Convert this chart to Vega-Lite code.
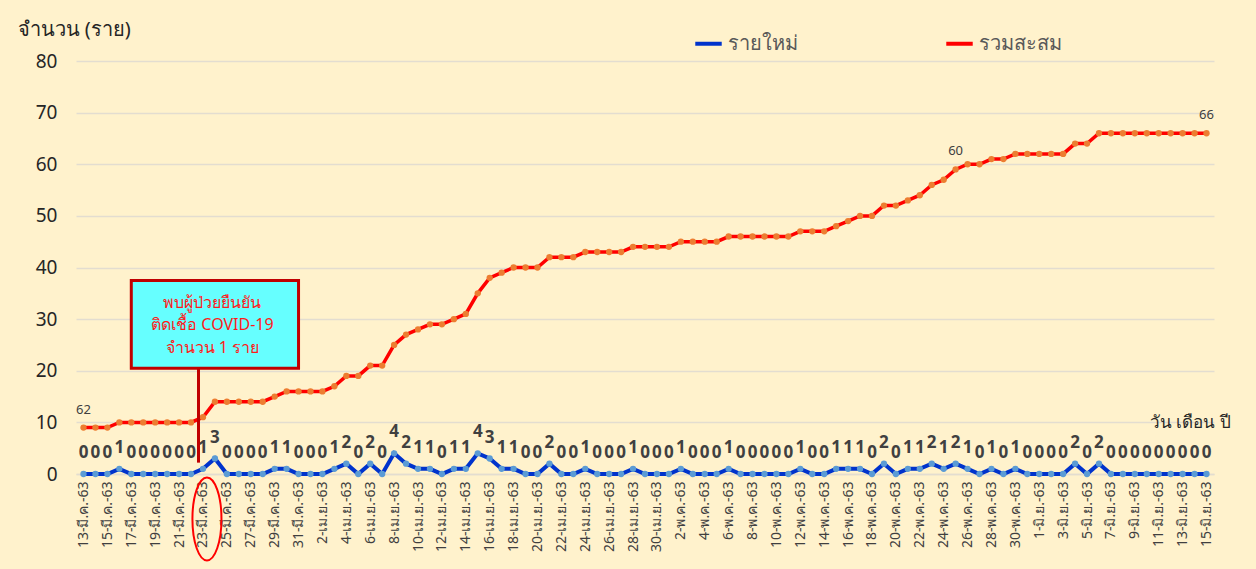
{
  "$schema": "https://vega.github.io/schema/vega-lite/v6.json",
  "width": 1138,
  "height": 413,
  "autosize": {"type": "none"},
  "padding": {"left": 76, "top": 61, "right": 42, "bottom": 95},
  "background": "#FFF2CC",
  "config": {
    "font": "Noto Sans",
    "view": {"stroke": null},
    "locale": {
      "time": {
        "dateTime": "%a %e %b %Y %X",
        "date": "%d/%m/%Y",
        "time": "%H:%M:%S",
        "periods": ["AM", "PM"],
        "days": ["อาทิตย์", "จันทร์", "อังคาร", "พุธ", "พฤหัสบดี", "ศุกร์", "เสาร์"],
        "shortDays": ["อา.", "จ.", "อ.", "พ.", "พฤ.", "ศ.", "ส."],
        "months": ["มกราคม", "กุมภาพันธ์", "มีนาคม", "เมษายน", "พฤษภาคม", "มิถุนายน", "กรกฎาคม", "สิงหาคม", "กันยายน", "ตุลาคม", "พฤศจิกายน", "ธันวาคม"],
        "shortMonths": ["ม.ค.", "ก.พ.", "มี.ค.", "เม.ย.", "พ.ค.", "มิ.ย.", "ก.ค.", "ส.ค.", "ก.ย.", "ต.ค.", "พ.ย.", "ธ.ค."]
      }
    }
  },
  "datasets": {
    "covid": [
      {"date": "2020-03-13", "new": 0, "total": 9, "totalLabel": "62"},
      {"date": "2020-03-14", "new": 0, "total": 9},
      {"date": "2020-03-15", "new": 0, "total": 9},
      {"date": "2020-03-16", "new": 1, "total": 10},
      {"date": "2020-03-17", "new": 0, "total": 10},
      {"date": "2020-03-18", "new": 0, "total": 10},
      {"date": "2020-03-19", "new": 0, "total": 10},
      {"date": "2020-03-20", "new": 0, "total": 10},
      {"date": "2020-03-21", "new": 0, "total": 10},
      {"date": "2020-03-22", "new": 0, "total": 10},
      {"date": "2020-03-23", "new": 1, "total": 11},
      {"date": "2020-03-24", "new": 3, "total": 14},
      {"date": "2020-03-25", "new": 0, "total": 14},
      {"date": "2020-03-26", "new": 0, "total": 14},
      {"date": "2020-03-27", "new": 0, "total": 14},
      {"date": "2020-03-28", "new": 0, "total": 14},
      {"date": "2020-03-29", "new": 1, "total": 15},
      {"date": "2020-03-30", "new": 1, "total": 16},
      {"date": "2020-03-31", "new": 0, "total": 16},
      {"date": "2020-04-01", "new": 0, "total": 16},
      {"date": "2020-04-02", "new": 0, "total": 16},
      {"date": "2020-04-03", "new": 1, "total": 17},
      {"date": "2020-04-04", "new": 2, "total": 19},
      {"date": "2020-04-05", "new": 0, "total": 19},
      {"date": "2020-04-06", "new": 2, "total": 21},
      {"date": "2020-04-07", "new": 0, "total": 21},
      {"date": "2020-04-08", "new": 4, "total": 25},
      {"date": "2020-04-09", "new": 2, "total": 27},
      {"date": "2020-04-10", "new": 1, "total": 28},
      {"date": "2020-04-11", "new": 1, "total": 29},
      {"date": "2020-04-12", "new": 0, "total": 29},
      {"date": "2020-04-13", "new": 1, "total": 30},
      {"date": "2020-04-14", "new": 1, "total": 31},
      {"date": "2020-04-15", "new": 4, "total": 35},
      {"date": "2020-04-16", "new": 3, "total": 38},
      {"date": "2020-04-17", "new": 1, "total": 39},
      {"date": "2020-04-18", "new": 1, "total": 40},
      {"date": "2020-04-19", "new": 0, "total": 40},
      {"date": "2020-04-20", "new": 0, "total": 40},
      {"date": "2020-04-21", "new": 2, "total": 42},
      {"date": "2020-04-22", "new": 0, "total": 42},
      {"date": "2020-04-23", "new": 0, "total": 42},
      {"date": "2020-04-24", "new": 1, "total": 43},
      {"date": "2020-04-25", "new": 0, "total": 43},
      {"date": "2020-04-26", "new": 0, "total": 43},
      {"date": "2020-04-27", "new": 0, "total": 43},
      {"date": "2020-04-28", "new": 1, "total": 44},
      {"date": "2020-04-29", "new": 0, "total": 44},
      {"date": "2020-04-30", "new": 0, "total": 44},
      {"date": "2020-05-01", "new": 0, "total": 44},
      {"date": "2020-05-02", "new": 1, "total": 45},
      {"date": "2020-05-03", "new": 0, "total": 45},
      {"date": "2020-05-04", "new": 0, "total": 45},
      {"date": "2020-05-05", "new": 0, "total": 45},
      {"date": "2020-05-06", "new": 1, "total": 46},
      {"date": "2020-05-07", "new": 0, "total": 46},
      {"date": "2020-05-08", "new": 0, "total": 46},
      {"date": "2020-05-09", "new": 0, "total": 46},
      {"date": "2020-05-10", "new": 0, "total": 46},
      {"date": "2020-05-11", "new": 0, "total": 46},
      {"date": "2020-05-12", "new": 1, "total": 47},
      {"date": "2020-05-13", "new": 0, "total": 47},
      {"date": "2020-05-14", "new": 0, "total": 47},
      {"date": "2020-05-15", "new": 1, "total": 48},
      {"date": "2020-05-16", "new": 1, "total": 49},
      {"date": "2020-05-17", "new": 1, "total": 50},
      {"date": "2020-05-18", "new": 0, "total": 50},
      {"date": "2020-05-19", "new": 2, "total": 52},
      {"date": "2020-05-20", "new": 0, "total": 52},
      {"date": "2020-05-21", "new": 1, "total": 53},
      {"date": "2020-05-22", "new": 1, "total": 54},
      {"date": "2020-05-23", "new": 2, "total": 56},
      {"date": "2020-05-24", "new": 1, "total": 57},
      {"date": "2020-05-25", "new": 2, "total": 59, "totalLabel": "60"},
      {"date": "2020-05-26", "new": 1, "total": 60},
      {"date": "2020-05-27", "new": 0, "total": 60},
      {"date": "2020-05-28", "new": 1, "total": 61},
      {"date": "2020-05-29", "new": 0, "total": 61},
      {"date": "2020-05-30", "new": 1, "total": 62},
      {"date": "2020-05-31", "new": 0, "total": 62},
      {"date": "2020-06-01", "new": 0, "total": 62},
      {"date": "2020-06-02", "new": 0, "total": 62},
      {"date": "2020-06-03", "new": 0, "total": 62},
      {"date": "2020-06-04", "new": 2, "total": 64},
      {"date": "2020-06-05", "new": 0, "total": 64},
      {"date": "2020-06-06", "new": 2, "total": 66},
      {"date": "2020-06-07", "new": 0, "total": 66},
      {"date": "2020-06-08", "new": 0, "total": 66},
      {"date": "2020-06-09", "new": 0, "total": 66},
      {"date": "2020-06-10", "new": 0, "total": 66},
      {"date": "2020-06-11", "new": 0, "total": 66},
      {"date": "2020-06-12", "new": 0, "total": 66},
      {"date": "2020-06-13", "new": 0, "total": 66},
      {"date": "2020-06-14", "new": 0, "total": 66},
      {"date": "2020-06-15", "new": 0, "total": 66, "totalLabel": "66"}
    ],
    "note": [
      {"start": "2020-03-17", "end": "2020-03-31", "top": 37.5, "bottom": 20.5}
    ],
    "noteText": [
      {"date": "2020-03-23T19:00:00Z", "value": 33.2, "text": "พบผู้ป่วยยืนยัน"},
      {"date": "2020-03-23T19:00:00Z", "value": 28.9, "text": "ติดเชื้อ COVID-19"},
      {"date": "2020-03-23T19:00:00Z", "value": 24.4, "text": "จำนวน 1 ราย"}
    ],
    "pointer": [
      {"date": "2020-03-22T15:00:00Z", "top": 20.5, "bottom": 2.2}
    ],
    "circle": [
      {"date": "2020-03-23T08:00:00Z", "value": -8.7}
    ]
  },
  "encoding": {
    "x": {
      "field": "date",
      "type": "temporal",
      "scale": {"type": "utc", "padding": 7.5},
      "axis": {
        "values": [
          {"year": 2020, "month": 3, "date": 13, "utc": true},
          {"year": 2020, "month": 3, "date": 15, "utc": true},
          {"year": 2020, "month": 3, "date": 17, "utc": true},
          {"year": 2020, "month": 3, "date": 19, "utc": true},
          {"year": 2020, "month": 3, "date": 21, "utc": true},
          {"year": 2020, "month": 3, "date": 23, "utc": true},
          {"year": 2020, "month": 3, "date": 25, "utc": true},
          {"year": 2020, "month": 3, "date": 27, "utc": true},
          {"year": 2020, "month": 3, "date": 29, "utc": true},
          {"year": 2020, "month": 3, "date": 31, "utc": true},
          {"year": 2020, "month": 4, "date": 2, "utc": true},
          {"year": 2020, "month": 4, "date": 4, "utc": true},
          {"year": 2020, "month": 4, "date": 6, "utc": true},
          {"year": 2020, "month": 4, "date": 8, "utc": true},
          {"year": 2020, "month": 4, "date": 10, "utc": true},
          {"year": 2020, "month": 4, "date": 12, "utc": true},
          {"year": 2020, "month": 4, "date": 14, "utc": true},
          {"year": 2020, "month": 4, "date": 16, "utc": true},
          {"year": 2020, "month": 4, "date": 18, "utc": true},
          {"year": 2020, "month": 4, "date": 20, "utc": true},
          {"year": 2020, "month": 4, "date": 22, "utc": true},
          {"year": 2020, "month": 4, "date": 24, "utc": true},
          {"year": 2020, "month": 4, "date": 26, "utc": true},
          {"year": 2020, "month": 4, "date": 28, "utc": true},
          {"year": 2020, "month": 4, "date": 30, "utc": true},
          {"year": 2020, "month": 5, "date": 2, "utc": true},
          {"year": 2020, "month": 5, "date": 4, "utc": true},
          {"year": 2020, "month": 5, "date": 6, "utc": true},
          {"year": 2020, "month": 5, "date": 8, "utc": true},
          {"year": 2020, "month": 5, "date": 10, "utc": true},
          {"year": 2020, "month": 5, "date": 12, "utc": true},
          {"year": 2020, "month": 5, "date": 14, "utc": true},
          {"year": 2020, "month": 5, "date": 16, "utc": true},
          {"year": 2020, "month": 5, "date": 18, "utc": true},
          {"year": 2020, "month": 5, "date": 20, "utc": true},
          {"year": 2020, "month": 5, "date": 22, "utc": true},
          {"year": 2020, "month": 5, "date": 24, "utc": true},
          {"year": 2020, "month": 5, "date": 26, "utc": true},
          {"year": 2020, "month": 5, "date": 28, "utc": true},
          {"year": 2020, "month": 5, "date": 30, "utc": true},
          {"year": 2020, "month": 6, "date": 1, "utc": true},
          {"year": 2020, "month": 6, "date": 3, "utc": true},
          {"year": 2020, "month": 6, "date": 5, "utc": true},
          {"year": 2020, "month": 6, "date": 7, "utc": true},
          {"year": 2020, "month": 6, "date": 9, "utc": true},
          {"year": 2020, "month": 6, "date": 11, "utc": true},
          {"year": 2020, "month": 6, "date": 13, "utc": true},
          {"year": 2020, "month": 6, "date": 15, "utc": true}
        ],
        "format": "%-d-%b-63",
        "labelAngle": -90,
        "labelAlign": "right",
        "labelBaseline": "middle",
        "labelFontSize": 14,
        "labelColor": "#404040",
        "labelPadding": 7,
        "labelOverlap": false,
        "labelFlush": false,
        "ticks": false,
        "grid": false,
        "domainColor": "#E3DDD0",
        "domainWidth": 1.5,
        "title": "วัน เดือน ปี",
        "titleX": 1114,
        "titleY": -52,
        "titleAlign": "center",
        "titleBaseline": "middle",
        "titleAngle": 0,
        "titleFontSize": 17,
        "titleFontWeight": "normal",
        "titleColor": "#262626"
      }
    }
  },
  "layer": [
    {
      "data": {"name": "covid"},
      "mark": {"type": "line", "strokeWidth": 3.5},
      "encoding": {
        "y": {
          "field": "total",
          "type": "quantitative",
          "scale": {"domain": [0, 80], "nice": false},
          "axis": {
            "values": [0, 10, 20, 30, 40, 50, 60, 70, 80],
            "labelFontSize": 19,
            "labelColor": "#262626",
            "labelPadding": 19,
            "ticks": false,
            "domain": false,
            "gridColor": "#E3DDD0",
            "gridWidth": 1.5,
            "title": "จำนวน (ราย)",
            "titleAngle": 0,
            "titleAlign": "left",
            "titleBaseline": "middle",
            "titleX": -59,
            "titleY": -32,
            "titleFontSize": 20,
            "titleFontWeight": "normal",
            "titleColor": "#262626"
          }
        },
        "color": {
          "datum": "รวมสะสม",
          "type": "nominal",
          "scale": {"domain": ["รายใหม่", "รวมสะสม"], "range": ["#0033CC", "#FF0000"]},
          "legend": {
            "title": null,
            "orient": "none",
            "legendX": 617,
            "legendY": -33,
            "direction": "horizontal",
            "columns": 2,
            "columnPadding": 140,
            "symbolType": "stroke",
            "symbolStrokeWidth": 4,
            "symbolSize": 700,
            "labelFontSize": 20,
            "labelColor": "#595959",
            "labelOffset": 4
          }
        }
      }
    },
    {
      "data": {"name": "covid"},
      "mark": {"type": "point", "filled": true, "color": "#ED7D31", "size": 40, "opacity": 1},
      "encoding": {"y": {"field": "total", "type": "quantitative"}}
    },
    {
      "data": {"name": "covid"},
      "mark": {"type": "line", "strokeWidth": 4},
      "encoding": {
        "y": {"field": "new", "type": "quantitative"},
        "color": {"datum": "รายใหม่", "type": "nominal"}
      }
    },
    {
      "data": {"name": "covid"},
      "mark": {"type": "point", "filled": true, "color": "#5B9BD5", "size": 40, "opacity": 1},
      "encoding": {"y": {"field": "new", "type": "quantitative"}}
    },
    {
      "data": {"name": "covid"},
      "mark": {"type": "text", "dy": -21, "fontSize": 17, "fontWeight": "bold", "color": "#404040", "baseline": "middle"},
      "encoding": {
        "y": {"field": "new", "type": "quantitative"},
        "text": {"field": "new", "type": "quantitative"}
      }
    },
    {
      "data": {"name": "covid"},
      "transform": [{"filter": "isValid(datum.totalLabel)"}],
      "mark": {"type": "text", "dy": -18, "fontSize": 13, "color": "#404040", "baseline": "middle"},
      "encoding": {
        "y": {"field": "total", "type": "quantitative"},
        "text": {"field": "totalLabel", "type": "nominal"}
      }
    },
    {
      "data": {"name": "pointer"},
      "mark": {"type": "rule", "color": "#C00000", "strokeWidth": 3},
      "encoding": {
        "y": {"field": "top", "type": "quantitative"},
        "y2": {"field": "bottom"}
      }
    },
    {
      "data": {"name": "note"},
      "mark": {"type": "rect", "fill": "#66FFFF", "stroke": "#C00000", "strokeWidth": 3},
      "encoding": {
        "x": {"field": "start", "type": "temporal"},
        "x2": {"field": "end"},
        "y": {"field": "top", "type": "quantitative"},
        "y2": {"field": "bottom"}
      }
    },
    {
      "data": {"name": "noteText"},
      "mark": {"type": "text", "fontSize": 16, "color": "#FF1A1A", "baseline": "middle", "align": "center"},
      "encoding": {
        "y": {"field": "value", "type": "quantitative"},
        "text": {"field": "text", "type": "nominal"}
      }
    },
    {
      "data": {"name": "circle"},
      "mark": {"type": "point", "filled": false, "stroke": "#FF0000", "strokeWidth": 2, "opacity": 1, "size": 6889, "shape": "M-0.35,0A0.35,1 0 1,0 0.35,0A0.35,1 0 1,0 -0.35,0Z"},
      "encoding": {
        "y": {"field": "value", "type": "quantitative"}
      }
    }
  ]
}
